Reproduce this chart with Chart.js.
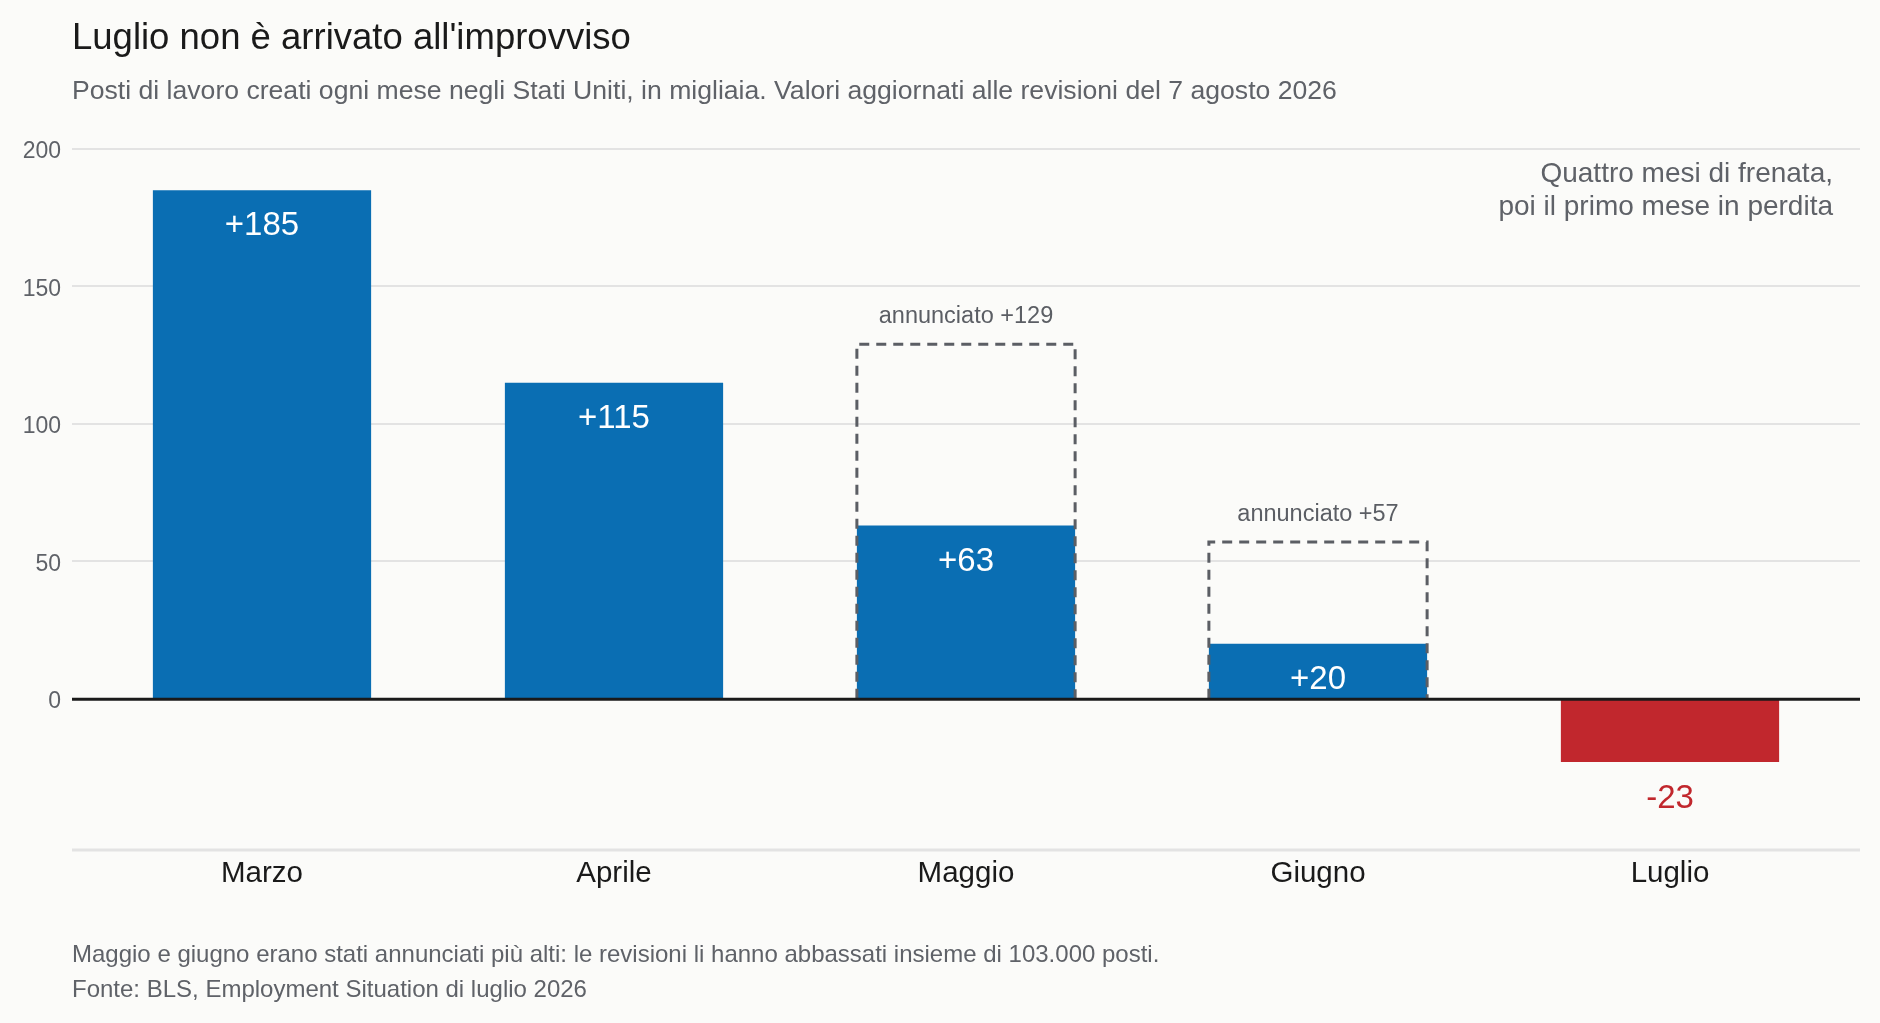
<!DOCTYPE html>
<html lang="it">
<head>
<meta charset="utf-8">
<title>Luglio non è arrivato all'improvviso</title>
<script src="https://cdn.jsdelivr.net/npm/chart.js@4.4.1/dist/chart.umd.min.js"></script>
<style>
  html, body { margin: 0; padding: 0; background: #fbfbf9; }
  body { width: 1880px; height: 1023px; position: relative; overflow: hidden; font-family: "Liberation Sans", Arial, sans-serif; }
  .txt { position: absolute; white-space: nowrap; line-height: 1.2; }
  #title { left: 72px; top: 14.5px; font-size: 36.5px; color: #1a1a1a; }
  #subtitle { left: 72px; top: 74.5px; font-size: 26.6px; color: #5f6268; }
  #note { right: 47px; top: 155.5px; font-size: 28px; line-height: 33.5px; color: #5f6268; text-align: right; }
  #foot1 { left: 72px; top: 940px; font-size: 24px; color: #5f6268; }
  #foot2 { left: 72px; top: 975px; font-size: 24px; color: #5f6268; }
  #wrap { position: absolute; left: 0; top: 0; width: 1880px; height: 1023px; }
</style>
</head>
<body>
<div id="wrap"><canvas id="chart" width="1880" height="1023"></canvas></div>
<div class="txt" id="title">Luglio non è arrivato all'improvviso</div>
<div class="txt" id="subtitle">Posti di lavoro creati ogni mese negli Stati Uniti, in migliaia. Valori aggiornati alle revisioni del 7 agosto 2026</div>
<div class="txt" id="note">Quattro mesi di frenata,<br>poi il primo mese in perdita</div>
<div class="txt" id="foot1">Maggio e giugno erano stati annunciati più alti: le revisioni li hanno abbassati insieme di 103.000 posti.</div>
<div class="txt" id="foot2">Fonte: BLS, Employment Situation di luglio 2026</div>

<script>
// dati (migliaia di posti)
const months = ['Marzo', 'Aprile', 'Maggio', 'Giugno', 'Luglio'];
const revised = [185, 115, 63, 20, -23];
const announced = [null, null, 129, 57, null];
const yTicks = [0, 50, 100, 150, 200];

const BLUE = '#0a6eb3';
const RED = '#c1272d';
const GREY = '#5b5e64';
const FONT = '"Liberation Sans", Arial, sans-serif';

// gridlines wider than the plot, zero line, dashed "announced" boxes, labels
const decorations = {
  id: 'decorations',
  beforeDatasetsDraw(chart) {
    const { ctx, chartArea, scales: { y } } = chart;
    ctx.save();
    ctx.strokeStyle = '#e3e3e3';
    ctx.lineWidth = 2;
    yTicks.forEach(v => {
      if (v === 0) return;
      const py = Math.round(y.getPixelForValue(v));
      ctx.beginPath();
      ctx.moveTo(72, py);
      ctx.lineTo(1860, py);
      ctx.stroke();
    });
    ctx.lineWidth = 3;
    ctx.beginPath();
    ctx.moveTo(72, chartArea.bottom);
    ctx.lineTo(1860, chartArea.bottom);
    ctx.stroke();
    ctx.restore();
  },
  afterDatasetsDraw(chart) {
    const { ctx, scales: { y } } = chart;
    ctx.save();

    // dashed outline for the first estimate
    const annMeta = chart.getDatasetMeta(1);
    ctx.strokeStyle = GREY;
    ctx.lineWidth = 3;
    ctx.setLineDash([10, 7]);
    annMeta.data.forEach((bar, i) => {
      if (announced[i] == null) return;
      const half = bar.width / 2;
      ctx.beginPath();
      ctx.moveTo(bar.x - half, bar.base);
      ctx.lineTo(bar.x - half, bar.y);
      ctx.lineTo(bar.x + half, bar.y);
      ctx.lineTo(bar.x + half, bar.base);
      ctx.stroke();
    });
    ctx.setLineDash([]);

    // zero line
    const y0 = y.getPixelForValue(0) + 0.5;
    ctx.strokeStyle = '#1a1a1a';
    ctx.lineWidth = 3;
    ctx.beginPath();
    ctx.moveTo(72, y0);
    ctx.lineTo(1860, y0);
    ctx.stroke();

    ctx.textAlign = 'center';
    ctx.textBaseline = 'middle';

    // "annunciato" labels
    ctx.font = '23.5px ' + FONT;
    ctx.fillStyle = GREY;
    annMeta.data.forEach((bar, i) => {
      if (announced[i] == null) return;
      ctx.fillText('annunciato +' + announced[i], bar.x, bar.y - 28);
    });

    // value labels
    ctx.font = '33px ' + FONT;
    chart.getDatasetMeta(0).data.forEach((bar, i) => {
      const v = revised[i];
      if (v >= 0) {
        ctx.fillStyle = '#ffffff';
        ctx.fillText('+' + v, bar.x, bar.y + 36);
      } else {
        ctx.fillStyle = RED;
        ctx.fillText(String(v), bar.x, bar.y + 37);
      }
    });
    ctx.restore();
  }
};

new Chart(document.getElementById('chart'), {
  type: 'bar',
  data: {
    labels: months,
    datasets: [
      {
        label: 'Rivisto',
        data: revised,
        backgroundColor: revised.map(v => v < 0 ? RED : BLUE),
        borderWidth: 0,
        grouped: false,
        order: 2
      },
      {
        label: 'Annunciato',
        data: announced,
        backgroundColor: 'rgba(0,0,0,0)',
        borderWidth: 0,
        grouped: false,
        order: 1
      }
    ]
  },
  options: {
    responsive: false,
    devicePixelRatio: 1,
    animation: false,
    layout: { padding: { top: 149, right: 34, bottom: 130, left: 0 } },
    categoryPercentage: 0.62,
    barPercentage: 1,
    plugins: {
      legend: { display: false },
      tooltip: { enabled: false }
    },
    scales: {
      x: {
        grid: { display: false, drawTicks: false },
        border: { display: false },
        ticks: { color: '#1a1a1a', font: { family: FONT, size: 29.5 }, padding: 6 },
        afterFit(scale) { scale.height = 43; }
      },
      y: {
        min: -55,
        max: 200,
        grid: { display: false, drawTicks: false },
        border: { display: false },
        ticks: { color: '#5f6268', font: { family: FONT, size: 23 }, padding: 25, labelOffset: 3 },
        afterBuildTicks(scale) { scale.ticks = yTicks.map(v => ({ value: v })); },
        afterFit(scale) { scale.width = 86; }
      }
    }
  },
  plugins: [decorations]
});
</script>
</body>
</html>
